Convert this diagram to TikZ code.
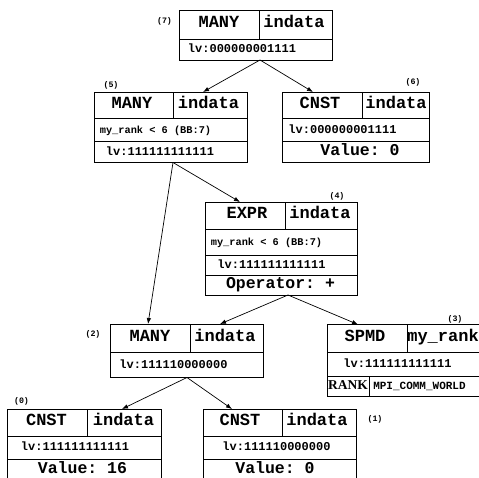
\documentclass[tikz,border=0pt]{standalone}
\usepackage{fontspec}
\setmainfont{Liberation Serif}
\setmonofont{Liberation Mono}
\usetikzlibrary{arrows.meta}
\newcommand\recCell[5]{\node[cellbox, minimum width={(#4-#2)*1pt}, minimum height={(#5-#3)*1pt}] (#1) at ({(#2+#4)/2},{(#3+#5)/2}) {};}
\tikzset{
  cellbox/.style={draw=black, line width=0.8pt, inner sep=0pt, outer sep=0pt, rectangle},
  txt/.style={inner sep=0pt, text height=0.65em, text depth=0pt},
  hdr/.style={txt, font=\ttfamily\bfseries\fontsize{17}{17}\selectfont},
  lvt/.style={txt, font=\ttfamily\bfseries\fontsize{12}{12}\selectfont},
  cond/.style={txt, font=\ttfamily\bfseries\fontsize{10.3}{10.3}\selectfont},
  valt/.style={txt, font=\ttfamily\bfseries\fontsize{16.5}{16.5}\selectfont},
  lab/.style={txt, font=\ttfamily\bfseries\fontsize{8.3}{8.3}\selectfont},
  rankt/.style={txt, font=\rmfamily\bfseries\fontsize{13.5}{13.5}\selectfont},
  mpit/.style={txt, font=\ttfamily\bfseries\fontsize{11}{11}\selectfont},
  edge/.style={line width=0.7pt, -{Latex[length=6pt,width=4.5pt]}}
}
\begin{document}
\begin{tikzpicture}[x=1pt,y=-1pt]
\useasboundingbox (0,0) rectangle (479,477);
\clip (0,0) rectangle (479,477);
\fill[white] (0,0) rectangle (479,477);
% Box 7
\recCell{n7a}{179}{10}{259}{39}
\recCell{n7b}{259}{10}{332}{39}
\recCell{n7c}{179}{39}{332}{60}
\node[hdr] (t7a) at (219,24.5) {MANY};
\node[hdr] (t7b) at (294,24.5) {indata};
\node[lvt] (t7c) at (242,49.5) {lv:000000001111};
\node[lab] (l7) at (164.5,20) {(7)};
% Box 5
\recCell{n5a}{94}{92}{173}{118.5}
\recCell{n5b}{173}{92}{247}{118.5}
\recCell{n5c}{94}{118.5}{247}{141.5}
\recCell{n5d}{94}{141.5}{247}{162.5}
\node[hdr] (t5a) at (132,105.2) {MANY};
\node[hdr] (t5b) at (208.5,105.2) {indata};
\node[cond] (t5c) at (155.5,130) {my\_rank < 6 (BB:7)};
\node[lvt] (t5d) at (160,152) {lv:111111111111};
\node[lab] (l5) at (111,84) {(5)};
% Box 6
\recCell{n6a}{282}{92}{362}{118.5}
\recCell{n6b}{362}{92}{429}{118.5}
\recCell{n6c}{282}{118.5}{429}{141.5}
\recCell{n6d}{282}{141.5}{429}{162.5}
\node[hdr] (t6a) at (320,105.2) {CNST};
\node[hdr] (t6b) at (396,105.2) {indata};
\node[lvt] (t6c) at (342.5,130) {lv:000000001111};
\node[valt] (t6d) at (360,152) {Value: 0};
\node[lab] (l6) at (413,81) {(6)};
% Box 4
\recCell{n4a}{205}{202}{285}{229}
\recCell{n4b}{285}{202}{357}{229}
\recCell{n4c}{205}{229}{357}{255}
\recCell{n4d}{205}{255}{357}{275}
\recCell{n4e}{205}{275}{357}{295}
\node[hdr] (t4a) at (247,215.5) {EXPR};
\node[hdr] (t4b) at (320,215.5) {indata};
\node[cond] (t4c) at (266.5,242) {my\_rank < 6 (BB:7)};
\node[lvt] (t4d) at (271.5,265) {lv:111111111111};
\node[valt] (t4e) at (280.5,285) {Operator: +};
\node[lab] (l4) at (337,195) {(4)};
% Box 2
\recCell{n2a}{110}{324}{190}{352}
\recCell{n2b}{190}{324}{263}{352}
\recCell{n2c}{110}{352}{263}{377.5}
\node[hdr] (t2a) at (150,338) {MANY};
\node[hdr] (t2b) at (225,338) {indata};
\node[lvt] (t2c) at (173.5,365) {lv:111110000000};
\node[lab] (l2) at (93,333) {(2)};
% Box 3
\recCell{n3a}{327}{324.5}{407}{352}
\recCell{n3b}{407}{324.5}{481}{352}
\recCell{n3c}{327}{352}{481}{376}
\recCell{n3d}{327}{376}{369}{396}
\recCell{n3e}{369}{376}{481}{396}
\node[hdr] (t3a) at (365,338.2) {SPMD};
\node[hdr] (t3b) at (443,338.2) {my\_rank};
\node[lvt] (t3c) at (397.5,364) {lv:111111111111};
\node[rankt] (t3d) at (348,386) {RANK};
\node[mpit] (t3e) at (419.5,386) {MPI\_COMM\_WORLD};
\node[lab] (l3) at (455,318) {(3)};
% Box 0
\recCell{n0a}{7}{409}{87}{436}
\recCell{n0b}{87}{409}{161}{436}
\recCell{n0c}{7}{436}{161}{459}
\recCell{n0d}{7}{459}{161}{483}
\node[hdr] (t0a) at (46.5,422.5) {CNST};
\node[hdr] (t0b) at (123.5,422.5) {indata};
\node[lvt] (t0c) at (75,447.5) {lv:111111111111};
\node[valt] (t0d) at (82.5,470) {Value: 16};
\node[lab] (l0) at (21.5,400) {(0)};
% Box 1
\recCell{n1a}{203}{409}{282}{436}
\recCell{n1b}{282}{409}{356}{436}
\recCell{n1c}{203}{436}{356}{459}
\recCell{n1d}{203}{459}{356}{483}
\node[hdr] (t1a) at (240,422.5) {CNST};
\node[hdr] (t1b) at (317,422.5) {indata};
\node[lvt] (t1c) at (276.5,447.5) {lv:111110000000};
\node[valt] (t1d) at (275,470) {Value: 0};
\node[lab] (l1) at (375,418) {(1)};
% connector ends
\coordinate (c7out) at (260,60);
\coordinate (c5in) at (203,92);
\coordinate (c6in) at (313,92);
\coordinate (c5out) at (173,162.5);
\coordinate (c2inA) at (148,324);
\coordinate (c4in) at (240,202);
\coordinate (c4out) at (288,295);
\coordinate (c2inB) at (220,324);
\coordinate (c3in) at (358,324.5);
\coordinate (c2out) at (187,377.5);
\coordinate (c0in) at (122,409);
\coordinate (c1in) at (232,409);
\draw[edge] (c7out) -- (c5in);
\draw[edge] (c7out) -- (c6in);
\draw[edge] (c5out) -- (c2inA);
\draw[edge] (c5out) -- (c4in);
\draw[edge] (c4out) -- (c2inB);
\draw[edge] (c4out) -- (c3in);
\draw[edge] (c2out) -- (c0in);
\draw[edge] (c2out) -- (c1in);
\end{tikzpicture}
\end{document}
